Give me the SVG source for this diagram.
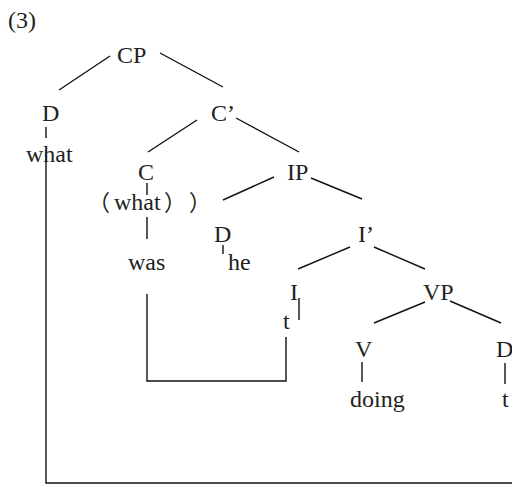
<svg xmlns="http://www.w3.org/2000/svg" width="512" height="487" viewBox="0 0 512 487">
<style>
text{font-family:"Liberation Serif","Times New Roman",serif;font-size:24px;fill:#231f20}
.cjk{font-family:"Liberation Serif","Noto Sans CJK SC",serif;font-size:22px}
line,polyline{stroke:#111;stroke-width:1.4;fill:none}
</style>
<rect width="512" height="487" fill="#fff"/>
<text x="8" y="28">(3)</text>
<g id="connectors">
<line x1="110" y1="56" x2="59" y2="90"/>
<line x1="160" y1="53" x2="223" y2="87"/>
<line x1="197" y1="120" x2="148" y2="152"/>
<line x1="236" y1="118" x2="299" y2="152"/>
<line x1="274" y1="177" x2="223" y2="200"/>
<line x1="311" y1="178" x2="362" y2="199"/>
<line x1="350" y1="247" x2="298" y2="269"/>
<line x1="374" y1="247" x2="425" y2="269"/>
<line x1="425" y1="302" x2="374" y2="323"/>
<line x1="450" y1="301" x2="501" y2="323"/>
<line x1="46" y1="127" x2="46" y2="138"/>
<polyline points="46,150 46,483 512,483"/>
<line x1="147" y1="183" x2="147" y2="195"/>
<line x1="147" y1="217" x2="147" y2="239"/>
<polyline points="147,294 147,381 286,381 286,337"/>
<line x1="223" y1="245" x2="223" y2="254"/>
<line x1="299" y1="298" x2="299" y2="320"/>
<line x1="362" y1="362" x2="362" y2="382"/>
<line x1="505" y1="363" x2="505" y2="384"/>
</g>
<g id="CP"><text x="117" y="63">CP</text></g>
<g id="D1"><text x="42" y="121">D</text></g>
<g id="what1"><text x="26" y="162">what</text></g>
<g id="Cbar"><text x="211" y="121">C’</text></g>
<g id="C"><text x="138" y="180">C</text></g>
<g id="what2"><text class="cjk" x="88" y="210">（</text><text x="114" y="210">what</text><text class="cjk" x="164" y="210">）</text><text class="cjk" x="189" y="210">）</text></g>
<g id="was"><text x="128" y="270">was</text></g>
<g id="IP"><text x="287" y="180">IP</text></g>
<g id="D2"><text x="214" y="242">D</text></g>
<g id="he"><text x="228" y="270">he</text></g>
<g id="Ibar"><text x="358" y="242">I’</text></g>
<g id="I"><text x="290" y="300">I</text></g>
<g id="t1"><text x="283" y="329">t</text></g>
<g id="VP"><text x="423" y="300">VP</text></g>
<g id="V"><text x="355" y="357">V</text></g>
<g id="D3"><text x="496" y="357">D</text></g>
<g id="doing"><text x="350" y="407">doing</text></g>
<g id="t2"><text x="502" y="407">t</text></g>
</svg>
